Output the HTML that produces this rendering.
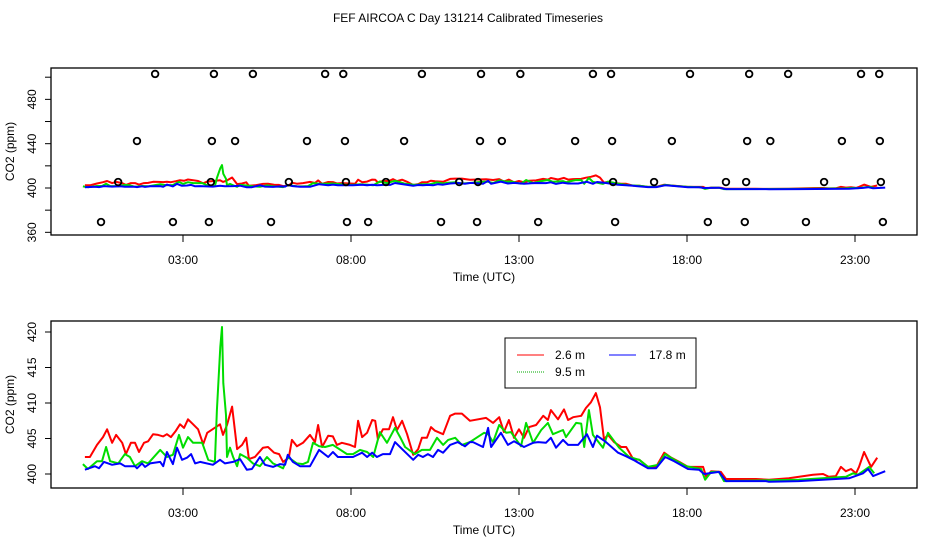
<!DOCTYPE html>
<html><head><meta charset="utf-8"><style>
body{margin:0;background:#fff}
svg{display:block}
text{font-family:"Liberation Sans",Arial,sans-serif;font-size:12px;fill:#000}
</style></head><body>
<svg id="chart" width="936" height="540" viewBox="0 0 936 540">
<text x="468" y="22" text-anchor="middle">FEF AIRCOA C  Day 131214  Calibrated Timeseries</text>
</svg>
<script>
const redT=[0.08,0.23,0.44,0.62,0.74,0.89,1.01,1.19,1.30,1.45,1.57,1.69,1.84,1.96,2.11,2.26,2.41,2.52,2.64,2.79,2.91,3.03,3.15,3.30,3.45,3.60,3.72,3.98,4.10,4.19,4.31,4.46,4.61,4.76,4.88,4.96,5.14,5.38,5.53,5.71,5.86,5.98,6.15,6.24,6.39,6.57,6.78,6.93,7.02,7.14,7.32,7.46,7.58,7.73,7.97,8.12,8.21,8.33,8.48,8.63,8.72,8.80,8.95,9.13,9.25,9.37,9.52,9.67,9.85,10.00,10.11,10.26,10.38,10.50,10.74,10.95,11.10,11.30,11.54,12.02,12.23,12.41,12.55,12.70,12.85,13.00,13.15,13.30,13.51,13.72,13.86,13.95,14.16,14.34,14.46,14.61,14.85,14.99,15.14,15.29,15.41,15.53,15.65,15.83,16.04,16.19,16.40,16.58,16.84,17.08,17.32,17.53,17.77,18.03,18.48,18.57,18.72,19.01,19.16,20.05,20.44,21.03,21.75,22.05,22.22,22.43,22.58,22.73,22.88,23.03,23.12,23.27,23.48,23.66];
const redV=[402.4,402.4,404.1,405.2,406.3,404.4,405.5,404.4,402.8,404.4,404.4,403.1,404.4,404.6,405.6,405.5,405.3,405.6,405.2,406.1,407.0,406.5,407.7,407.0,406.3,404.2,405.8,406.6,407.0,405.5,406.9,409.5,403.5,404.1,405.1,402.1,402.4,403.7,403.8,403.0,402.8,401.7,402.3,404.8,403.9,404.4,405.5,404.5,406.9,403.8,405.4,405.3,404.1,404.4,404.1,403.8,407.5,405.2,405.8,407.6,407.5,404.9,406.3,406.3,408.0,406.2,407.5,405.6,402.7,403.5,405.1,405.1,406.6,406.1,405.6,408.2,408.5,408.5,407.5,407.9,407.2,408.0,405.9,407.6,405.1,406.3,405.1,406.6,406.9,408.2,407.6,409.0,407.7,409.1,407.6,408.0,408.2,409.3,410.1,411.4,409.4,404.9,405.5,404.5,403.8,403.8,402.1,402.0,401.0,401.0,403.0,402.3,401.7,401.0,401.0,399.6,400.4,400.3,399.3,399.3,399.2,399.4,399.9,400.0,399.6,399.7,401.0,400.4,400.7,400.1,401.0,403.1,401.0,402.3];
const greenT=[0.02,0.17,0.44,0.59,0.71,0.83,1.07,1.27,1.42,1.57,1.78,1.96,2.32,2.52,2.70,2.88,3.00,3.15,3.30,3.57,3.75,3.95,4.01,4.11,4.16,4.20,4.28,4.31,4.40,4.49,4.61,4.70,4.90,5.08,5.29,5.50,5.68,5.98,6.12,6.39,6.57,6.72,6.87,7.05,7.23,7.46,7.88,8.06,8.27,8.48,8.66,8.86,9.07,9.31,9.46,9.61,9.90,10.11,10.35,10.56,10.74,10.89,11.10,11.30,11.54,11.96,12.08,12.23,12.41,12.62,12.76,13.06,13.21,13.42,13.66,13.86,14.01,14.31,14.40,14.70,14.85,14.94,15.08,15.20,15.50,15.65,15.98,16.28,16.58,16.84,17.14,17.35,17.59,17.98,18.42,18.54,18.72,18.95,19.10,21.33,22.73,22.94,23.09,23.42,23.57];
const greenV=[401.4,400.7,401.8,401.8,403.8,401.8,401.5,402.8,402.4,401.1,401.8,401.5,403.4,402.4,402.7,405.5,403.7,405.2,404.4,404.4,402.0,401.7,409.0,417.9,420.7,412.8,408.3,402.4,403.7,402.4,401.1,402.8,402.3,401.5,401.1,402.4,401.5,400.8,402.4,401.5,401.4,401.7,404.4,403.9,403.8,404.1,402.8,402.8,403.4,403.1,402.4,405.9,404.4,406.5,405.2,403.8,402.8,403.4,403.4,405.1,404.1,404.8,405.1,404.1,404.5,405.8,405.6,404.5,406.9,405.8,405.9,403.9,407.2,404.4,406.2,407.2,405.6,406.2,405.2,407.2,407.1,403.8,409.0,405.5,403.7,405.8,403.7,402.4,402.0,401.0,401.3,402.8,402.1,401.1,400.7,399.2,400.3,400.3,399.0,399.2,399.6,400.1,399.9,401.0,400.1];
const blueT=[0.08,0.38,0.50,0.65,0.89,1.13,1.27,1.57,1.63,1.78,1.87,2.02,2.32,2.41,2.52,2.70,2.82,2.97,3.12,3.24,3.36,3.51,3.89,4.10,4.25,4.49,4.70,4.90,5.05,5.29,5.44,5.68,5.89,6.04,6.12,6.27,6.48,6.78,7.05,7.32,7.46,7.61,8.06,8.33,8.48,8.63,8.77,8.95,9.16,9.31,9.52,9.85,10.00,10.14,10.29,10.44,10.59,10.74,10.95,11.18,11.39,11.54,11.63,11.93,12.08,12.17,12.46,12.67,12.85,13.15,13.42,13.57,13.80,13.95,14.10,14.31,14.46,14.76,15.02,15.20,15.32,15.59,15.95,16.19,16.40,16.84,17.08,17.35,17.62,18.03,18.36,18.51,18.95,19.16,20.35,20.44,21.33,22.82,23.24,23.39,23.54,23.90];
const blueV=[400.6,401.1,400.8,401.7,401.3,401.5,401.1,401.1,400.8,401.5,401.0,401.5,401.7,401.1,403.1,401.4,403.7,402.0,402.3,402.8,401.5,401.7,401.3,402.0,401.5,401.7,402.1,400.6,400.7,402.4,401.3,401.0,401.4,401.3,402.7,401.7,401.1,401.1,403.4,402.4,403.1,402.4,402.4,403.0,402.4,403.0,402.4,402.8,402.8,404.5,403.5,402.0,402.7,402.4,402.8,402.4,403.4,403.0,404.1,404.5,403.9,404.5,404.5,403.8,406.5,403.8,405.8,404.1,404.6,403.8,404.4,404.5,404.4,405.1,403.7,404.8,404.1,404.1,405.6,403.8,405.4,404.5,403.0,402.5,402.0,400.8,400.8,402.4,401.8,400.7,400.6,400.0,400.3,399.0,399.0,398.9,399.0,399.4,400.1,400.7,399.7,400.4];
const flagT=[1.07,3.83,6.15,7.85,9.04,11.22,11.78,15.80,17.02,19.16,19.76,22.08,23.77,
 0.56,2.70,3.77,5.62,7.88,8.51,10.68,11.75,13.57,15.86,18.62,19.72,21.54,23.83,
 1.63,3.86,4.55,6.69,7.82,9.58,11.84,12.49,14.67,15.77,17.55,19.79,20.48,22.61,23.74,
 2.17,3.92,5.08,7.23,7.77,10.11,11.87,13.04,15.20,15.74,18.09,19.85,21.01,23.18,23.72];
const flagV=[405.4,405.4,405.4,405.4,405.4,405.4,405.4,405.4,405.4,405.4,405.4,405.4,405.4,
 369.3,369.3,369.3,369.3,369.3,369.3,369.3,369.3,369.3,369.3,369.3,369.3,369.3,369.3,
 442.4,442.4,442.4,442.4,442.4,442.4,442.4,442.4,442.4,442.4,442.4,442.4,442.4,442.4,442.4,
 502.9,502.9,502.9,502.9,502.9,502.9,502.9,502.9,502.9,502.9,502.9,502.9,502.9,502.9,502.9];
const xTickHours=[3,8,13,18,23];
const xTickLabels=["03:00","08:00","13:00","18:00","23:00"];
const topTicks=[360,380,400,420,440,460,480,500];
const topLabels=[360,400,440,480];
const botTicks=[400,405,410,415,420];

const NS="http://www.w3.org/2000/svg";
const svg=document.getElementById('chart');
function mk(tag,attrs,parent){const e=document.createElementNS(NS,tag);for(const k in attrs)e.setAttribute(k,attrs[k]);(parent||svg).appendChild(e);return e;}
const X0=51,X1=917;
const xs=h=>82.2+h*33.6;

function panel(name,top,bot,yv0,yp0,ppu,ticks,labels,xlabY,titleY){
  const ys=v=>yp0-(v-yv0)*ppu;
  const g=mk('g',{});
  
  
  const box=mk('rect',{x:X0,y:top,width:X1-X0,height:bot-top,fill:'none',stroke:'#000','stroke-width':1.3},g);
  
  
  ticks.forEach(v=>{const t=mk('line',{x1:X0-6,x2:X0,y1:ys(v),y2:ys(v),stroke:'#000'},g);
    
    });
  labels.forEach(v=>{const t=mk('text',{x:36,y:ys(v),'text-anchor':'middle',transform:`rotate(-90 36 ${ys(v)})`},g);t.textContent=v;
    
    });
  xTickHours.forEach((h,i)=>{const t=mk('line',{x1:xs(h),x2:xs(h),y1:bot,y2:bot+7,stroke:'#000'},g);
    
    
    const l=mk('text',{x:xs(h),y:xlabY,'text-anchor':'middle'},g);l.textContent=xTickLabels[i];
    
    });
  const xt=mk('text',{x:484,y:titleY,'text-anchor':'middle'},g);xt.textContent='Time (UTC)';
  
  
  const cy=(top+bot)/2;
  const yt=mk('text',{x:14,y:cy,'text-anchor':'middle',transform:`rotate(-90 14 ${cy})`},g);yt.textContent='CO2 (ppm)';
  
  
  const series=[[redT,redV,'#ff0000','red-2.6m-line'],[greenT,greenV,'#00dd00','green-9.5m-line'],[blueT,blueV,'#0000ff','blue-17.8m-line']];
  series.forEach(s=>{const d=s[0].map((t,i)=>(i?'L':'M')+xs(t).toFixed(1)+','+ys(s[1][i]).toFixed(1)).join('');
    const p=mk('path',{d:d,fill:'none',stroke:s[2],'stroke-width':2,'stroke-linejoin':'round'},g);
    
    });
  return ys;
}
const ysTop=panel('top',68,235,400,188,1.108,topTicks,topLabels,264,281);
flagT.forEach((t,i)=>{const c=mk('circle',{cx:xs(t),cy:ysTop(flagV[i]),r:3.3,fill:'none',stroke:'#000','stroke-width':1.8});
  
  });
panel('bottom',321,488,400,474,7.1,botTicks,botTicks,517,534);

// legend
const lg=mk('g',{});


mk('rect',{x:505,y:338,width:191,height:50,fill:'#fff',stroke:'#000','stroke-width':1},lg);
[[517,544,355,'#ff0000','2.6 m',555],[517,544,372,'#00aa00','9.5 m',555],[609,636,355,'#0000ff','17.8 m',649]].forEach(e=>{
  const l=mk('line',{x1:e[0],x2:e[1],y1:e[2],y2:e[2],stroke:e[3],'stroke-width':1,'stroke-dasharray':e[4]==='9.5 m'?'1 1':''},lg);
  
  
  const t=mk('text',{x:e[5],y:e[2]+4},lg);t.textContent=e[4];
  
  
});
</script>
</body></html>
